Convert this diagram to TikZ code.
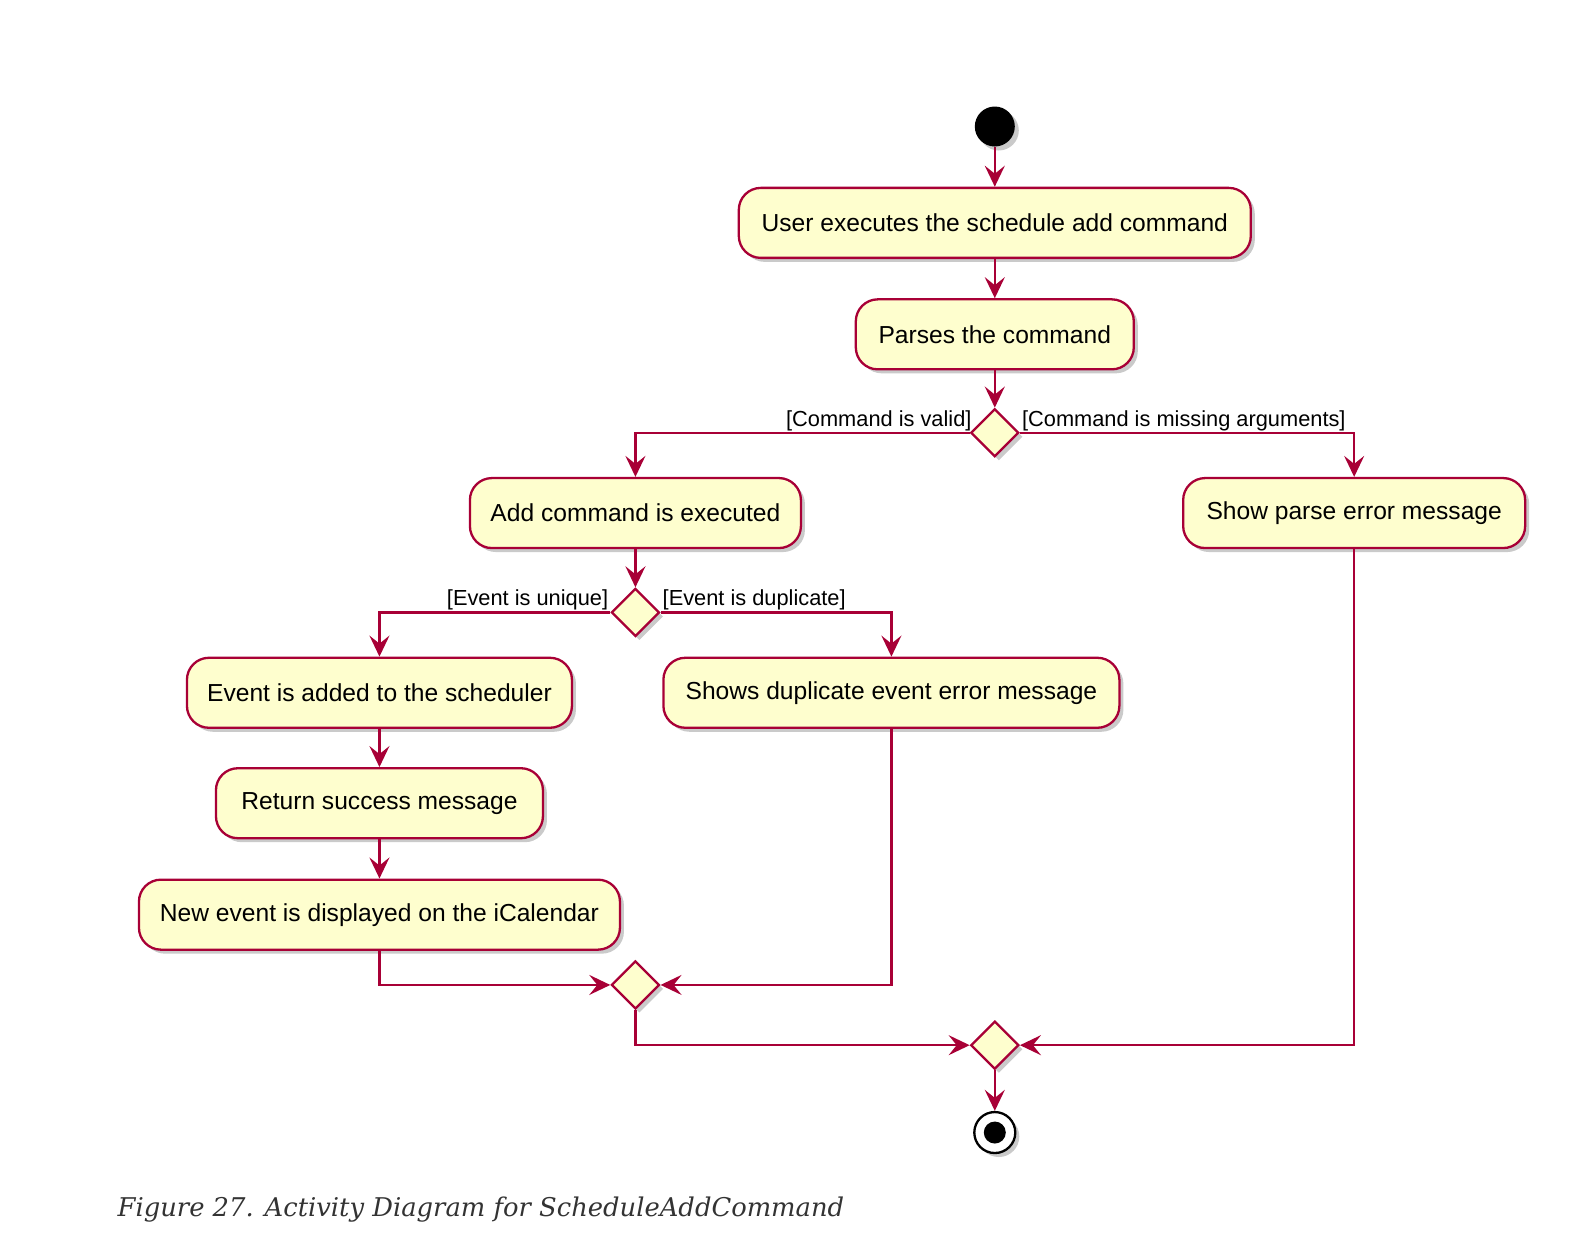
\documentclass[tikz,border=0pt]{standalone}
\usepackage{fontspec}
\setmainfont{Liberation Sans}
\newfontfamily\capfont{DejaVu Serif}
\usetikzlibrary{arrows.meta,shapes.geometric,shadows}

\definecolor{umlred}{HTML}{A80036}
\definecolor{umlfill}{HTML}{FEFECE}
\definecolor{capgray}{HTML}{333333}

\tikzset{
  umlshadow/.style={drop shadow={shadow xshift=4pt, shadow yshift=-4pt, opacity=.35, fill=black!60}},
  action/.style={draw=umlred, fill=umlfill, line width=2.3pt, rounded corners=22pt,
    minimum height=70pt, inner sep=0pt, umlshadow,
    font=\fontsize{24.6}{28}\selectfont},
  decision/.style={diamond, draw=umlred, fill=umlfill, line width=2.3pt,
    minimum size=48pt, inner sep=0pt, umlshadow},
  startnode/.style={circle, fill=black, minimum size=40pt, inner sep=0pt, umlshadow},
  endnode/.style={circle, draw=black, line width=2.3pt, fill=white, minimum size=41pt, inner sep=0pt, umlshadow},
  flow/.style={draw=umlred, line width=2.3pt, -{Stealth[length=21pt, width=20pt, inset=8pt]}},
  guard/.style={inner sep=1pt, font=\fontsize{21.8}{24}\selectfont}
}

\begin{document}
\begin{tikzpicture}[x=1.00383pt, y=-1.00402pt]
  \useasboundingbox (0,0) rectangle (1568,1243);

  \node[startnode] (start) at (991,126) {};
  \node[action, minimum width=512pt] (user) at (991,222) {User executes the schedule add command};
  \node[action, minimum width=278pt] (parse) at (991,333) {Parses the command};
  \node[decision] (valid) at (991,431) {};
  \node[action, minimum width=331pt] (addcmd) at (633,511) {Add command is executed};
  \node[action, minimum width=342pt] (parseerr) at (1349,511) {Show parse error message};
  \node[decision] (unique) at (633,610) {};
  \node[action, minimum width=385pt] (added) at (378,690) {Event is added to the scheduler};
  \node[action, minimum width=456pt] (dupmsg) at (888,690) {Shows duplicate event error message};
  \node[action, minimum width=327pt] (success) at (378,800) {Return success message};
  \node[action, minimum width=481pt] (display) at (378,911) {New event is displayed on the iCalendar};
  \node[decision] (mergeevt) at (633,981) {};
  \node[decision] (mergeall) at (991,1041) {};
  \node[endnode] (stop) at (991,1128) {};
  \fill (stop) circle[radius=11pt];

  \draw[flow] (start) -- (user);
  \draw[flow] (user) -- (parse);
  \draw[flow] (parse) -- (valid);
  \draw[flow] (valid.west) -| node[guard, pos=0, anchor=south east, xshift=4pt] {[Command is valid]} (addcmd.north);
  \draw[flow] (valid.east) -| node[guard, pos=0, anchor=south west] {[Command is missing arguments]} (parseerr.north);
  \draw[flow] (addcmd) -- (unique);
  \draw[flow] (unique.west) -| node[guard, pos=0, anchor=south east] {[Event is unique]} (added.north);
  \draw[flow] (unique.east) -| node[guard, pos=0, anchor=south west] {[Event is duplicate]} (dupmsg.north);
  \draw[flow] (added) -- (success);
  \draw[flow] (success) -- (display);
  \draw[flow] (display.south) |- (mergeevt.west);
  \draw[flow] (dupmsg.south) |- (mergeevt.east);
  \draw[flow] (mergeevt.south) |- (mergeall.west);
  \draw[flow] (parseerr.south) |- (mergeall.east);
  \draw[flow] (mergeall) -- (stop);

  \node[anchor=base west, inner sep=0pt, text=capgray, font=\capfont\itshape\fontsize{25.8}{30}\selectfont] (caption) at (117,1212) {Figure 27. Activity Diagram for ScheduleAddCommand};
\end{tikzpicture}
\end{document}
